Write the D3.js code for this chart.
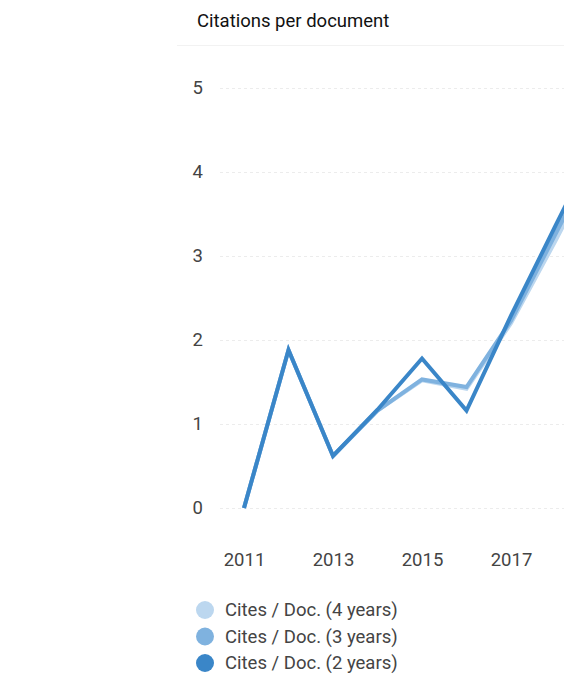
<!DOCTYPE html>
<html>
<head>
<meta charset="utf-8">
<script src="https://cdn.jsdelivr.net/npm/d3@7"></script>
<style>
  html, body { margin: 0; padding: 0; background: #fff; overflow: hidden; }
  svg { display: block; font-family: Roboto, "Noto Sans", sans-serif; }
</style>
</head>
<body>
<svg id="chart" width="564" height="686"></svg>
<script>
const years = [2011, 2012, 2013, 2014, 2015, 2016, 2017, 2018, 2019];
const cites4 = [0, 1.88, 0.62, 1.16, 1.52, 1.42, 2.20, 3.18, 4.20];
const cites3 = [0, 1.88, 0.62, 1.16, 1.53, 1.44, 2.23, 3.26, 4.30];
const cites2 = [0, 1.88, 0.62, 1.17, 1.78, 1.16, 2.29, 3.36, 4.42];
const seriesNames = ["Cites / Doc. (4 years)", "Cites / Doc. (3 years)", "Cites / Doc. (2 years)"];
const seriesColors = ["#bcd7ef", "#7fb2df", "#3a86c8"];
const yTicks = [0, 1, 2, 3, 4, 5];
const xTicks = [2011, 2013, 2015, 2017];
const title = "Citations per document";

const svg = d3.select("#chart");
const W = 564;
const FS = 18.5;

const x = d3.scaleLinear().domain([2011, 2018]).range([244, 555.5]);
const y = d3.scaleLinear().domain([0, 5]).range([508, 88]);

// title
svg.append("text").attr("x", 197).attr("y", 27)
  .attr("font-size", FS).attr("fill", "#111").text(title);
svg.append("line").attr("x1", 177).attr("x2", W).attr("y1", 45.5).attr("y2", 45.5)
  .attr("stroke", "#f2f2f2").attr("stroke-width", 1);

// y gridlines + labels
const yAxis = d3.axisLeft(y).tickValues(yTicks).tickSize(-(W - 220)).tickPadding(17).tickFormat(d3.format("d"));
const gy = svg.append("g").attr("transform", "translate(220,0)").call(yAxis);
gy.select(".domain").remove();
gy.selectAll(".tick line").attr("stroke", "#ececec").attr("stroke-dasharray", "3,3");
gy.selectAll(".tick text").attr("font-size", FS).attr("fill", "#444")
  .attr("font-family", "Roboto, sans-serif");

// x axis labels
const xAxis = d3.axisBottom(x).tickValues(xTicks).tickSize(0).tickPadding(0).tickFormat(d3.format("d"));
const gx = svg.append("g").attr("transform", "translate(0,552.5)").call(xAxis);
gx.select(".domain").remove();
gx.selectAll(".tick text").attr("font-size", FS).attr("fill", "#444")
  .attr("font-family", "Roboto, sans-serif");

// lines
const data = [cites4, cites3, cites2];
const line = d3.line().x((d, i) => x(years[i])).y(d => y(d));
data.forEach((vals, k) => {
  svg.append("path").datum(vals)
    .attr("d", line)
    .attr("fill", "none")
    .attr("stroke", seriesColors[k])
    .attr("stroke-width", 4)
    .attr("stroke-linejoin", "miter");
});

// legend
const legendY = [610, 636.5, 663];
seriesNames.forEach((name, k) => {
  svg.append("circle").attr("cx", 205).attr("cy", legendY[k]).attr("r", 9)
    .attr("fill", seriesColors[k]);
  svg.append("text").attr("x", 225).attr("y", legendY[k]).attr("dy", "0.35em")
    .attr("font-size", FS).attr("fill", "#444").text(name);
});
</script>
</body>
</html>
